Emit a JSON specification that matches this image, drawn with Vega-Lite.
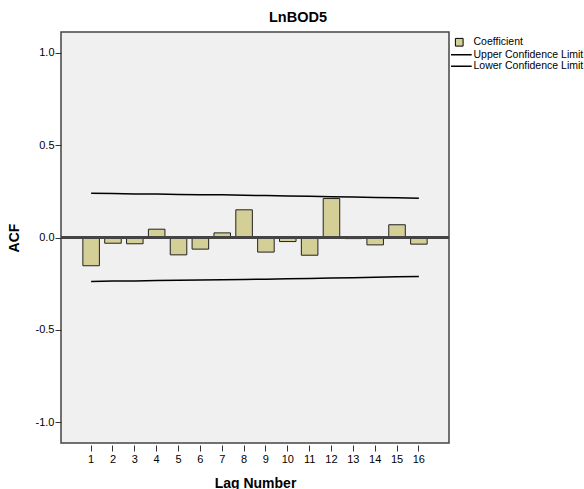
{
  "$schema": "https://vega.github.io/schema/vega-lite/v6.json",
  "width": 388,
  "height": 411,
  "autosize": {"type": "none"},
  "padding": {"left": 61, "top": 32, "right": 135, "bottom": 46},
  "background": "white",
  "config": {
    "font": "Liberation Sans",
    "view": {"fill": "#f0f0f0", "stroke": "#444444", "strokeWidth": 1.5},
    "axis": {"labelFont": "Liberation Sans", "titleFont": "Liberation Sans", "labelColor": "#000000", "titleColor": "#000000", "tickColor": "#333333", "grid": false},
    "legend": {
      "orient": "none",
      "legendX": 393,
      "legendY": 5,
      "labelFont": "Liberation Sans",
      "labelFontSize": 10.5,
      "labelColor": "#000000",
      "labelOffset": 9,
      "symbolSize": 49,
      "rowPadding": 0.5
    }
  },
  "title": {"text": "LnBOD5", "fontSize": 14.5, "fontWeight": "bold", "font": "Liberation Sans", "color": "#000000", "offset": 7, "anchor": "middle", "dx": 43},
  "data": {
    "values": [
      {"lag": 1, "acf": -0.153, "upper": 0.240, "lower": -0.238},
      {"lag": 2, "acf": -0.031, "upper": 0.238, "lower": -0.236},
      {"lag": 3, "acf": -0.034, "upper": 0.236, "lower": -0.235},
      {"lag": 4, "acf": 0.045, "upper": 0.235, "lower": -0.233},
      {"lag": 5, "acf": -0.094, "upper": 0.233, "lower": -0.232},
      {"lag": 6, "acf": -0.063, "upper": 0.232, "lower": -0.230},
      {"lag": 7, "acf": 0.025, "upper": 0.231, "lower": -0.229},
      {"lag": 8, "acf": 0.150, "upper": 0.229, "lower": -0.227},
      {"lag": 9, "acf": -0.079, "upper": 0.227, "lower": -0.226},
      {"lag": 10, "acf": -0.022, "upper": 0.225, "lower": -0.224},
      {"lag": 11, "acf": -0.096, "upper": 0.223, "lower": -0.222},
      {"lag": 12, "acf": 0.211, "upper": 0.221, "lower": -0.220},
      {"lag": 13, "acf": -0.006, "upper": 0.219, "lower": -0.218},
      {"lag": 14, "acf": -0.040, "upper": 0.217, "lower": -0.215},
      {"lag": 15, "acf": 0.069, "upper": 0.215, "lower": -0.213},
      {"lag": 16, "acf": -0.036, "upper": 0.212, "lower": -0.211}
    ]
  },
  "encoding": {
    "x": {
      "field": "lag", "type": "ordinal",
      "scale": {"paddingInner": 0.243, "paddingOuter": 1.03},
      "axis": {"title": "Lag Number", "titleFontSize": 14, "titleFontWeight": "bold", "titlePadding": 12, "labelAngle": 0, "labelFontSize": 11, "domain": false, "offset": 2, "tickSize": 6, "labelPadding": 2}
    }
  },
  "layer": [
    {
      "mark": {"type": "bar", "fill": "#d3cf96", "stroke": "#222222", "strokeWidth": 1},
      "encoding": {
        "y": {
          "field": "acf", "type": "quantitative",
          "scale": {"domain": [-1.113, 1.113], "nice": false, "zero": false},
          "axis": {"title": "ACF", "titleFontSize": 14, "titleFontWeight": "bold", "titlePadding": 14, "values": [-1, -0.5, 0, 0.5, 1], "labelExpr": "datum.value < 0 ? '-' + format(abs(datum.value), '.1f') : format(datum.value, '.1f')", "labelFontSize": 11, "domain": false, "tickSize": 6, "labelPadding": 1}
        }
      }
    },
    {
      "mark": {"type": "rule", "color": "#444444", "strokeWidth": 1.5},
      "encoding": {"y": {"datum": 0}, "x": {"value": 0}, "x2": {"value": 388}}
    },
    {
      "mark": {"type": "line", "strokeWidth": 1.5},
      "encoding": {
        "y": {"field": "upper", "type": "quantitative"},
        "color": {
          "datum": "Upper Confidence Limit", "type": "nominal",
          "scale": {"domain": ["Coefficient", "Upper Confidence Limit", "Lower Confidence Limit"], "range": ["#000000", "#000000", "#000000"]},
          "legend": {
            "title": null,
            "encode": {
              "symbols": {
                "update": {
                  "shape": {"signal": "datum.value === 'Coefficient' ? 'M-1.1,-1.1H1.1V1.1H-1.1Z' : 'M-2.35,0H3.55'"},
                  "fill": {"signal": "datum.value === 'Coefficient' ? '#d3cf96' : 'transparent'"},
                  "strokeWidth": {"signal": "datum.value === 'Coefficient' ? 1 : 1.5"}
                }
              }
            }
          }
        }
      }
    },
    {
      "mark": {"type": "line", "strokeWidth": 1.5},
      "encoding": {
        "y": {"field": "lower", "type": "quantitative"},
        "color": {
          "datum": "Lower Confidence Limit", "type": "nominal",
          "legend": {
            "title": null,
            "encode": {
              "symbols": {
                "update": {
                  "shape": {"signal": "datum.value === 'Coefficient' ? 'M-1.1,-1.1H1.1V1.1H-1.1Z' : 'M-2.35,0H3.55'"},
                  "fill": {"signal": "datum.value === 'Coefficient' ? '#d3cf96' : 'transparent'"},
                  "strokeWidth": {"signal": "datum.value === 'Coefficient' ? 1 : 1.5"}
                }
              }
            }
          }
        }
      }
    }
  ]
}
